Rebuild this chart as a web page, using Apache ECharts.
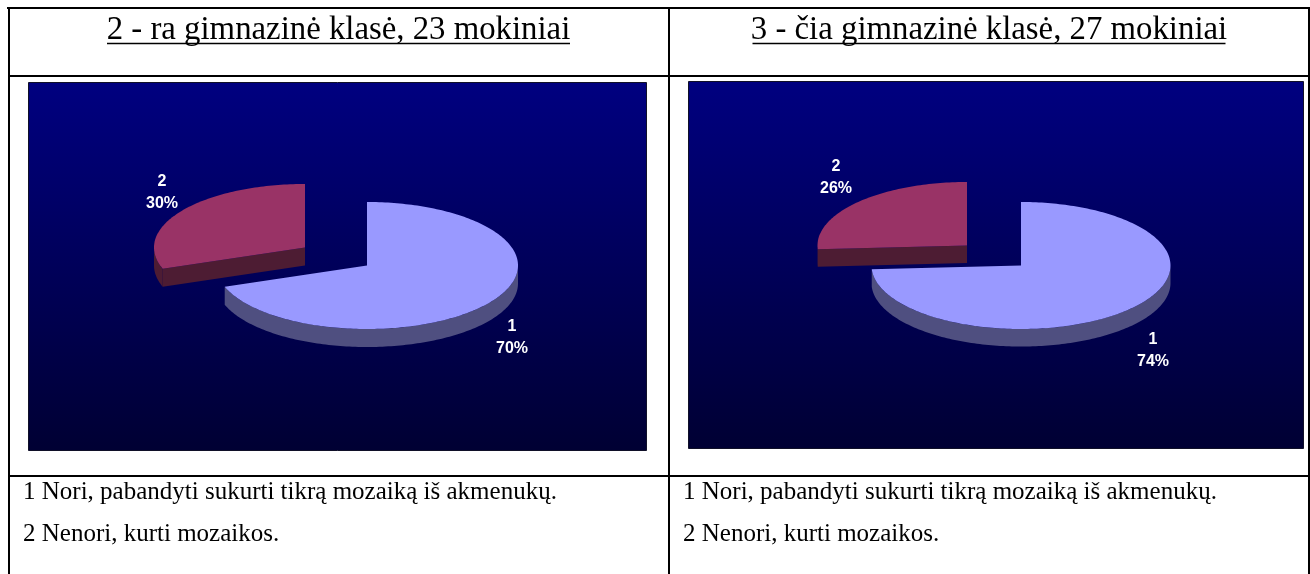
<!DOCTYPE html>
<html>
<head>
<meta charset="utf-8">
<style>html,body{margin:0;padding:0;background:#fff}#c{width:1310px;height:574px}</style>
<script src="https://cdn.jsdelivr.net/npm/echarts@6/dist/echarts.min.js"></script>
</head>
<body>
<div id="c"></div>
<script>
// ---- data ----
const titles = ['2 - ra gimnazinė klasė, 23 mokiniai', '3 - čia gimnazinė klasė, 27 mokiniai'];
const categories = ['1', '2'];
const valuesLeft = [16, 7];    // pupils out of 23: 70% / 30%
const valuesRight = [20, 7];   // pupils out of 27: 74% / 26%
const legendLines = ['1 Nori, pabandyti sukurti tikrą mozaiką iš akmenukų.', '2 Nenori, kurti mozaikos.'];

// ---- layout and style ----
const TOP_COLORS = ['#9999FF', '#993366'];
const RIM_COLORS = ['#4F4F80', '#4D1C33'];
const panels = [
  { x: 28.5, y: 82.5, w: 618, h: 368, titleX: 338.5, titleW: 463, legendX: 23 },
  { x: 688.5, y: 81.5, w: 615, h: 367, titleX: 989, titleW: 473, legendX: 683 }
];
const pies = [
  { values: valuesLeft, rx: 151, ry: 63.5, depth: 18,
    centers: [[367, 265.5], [305, 247.5]],
    labels: [[512, 337.5], [162, 192.5]] },
  { values: valuesRight, rx: 149.5, ry: 63.5, depth: 17.5,
    centers: [[1021, 265.5], [967, 245.5]],
    labels: [[1153, 350.5], [836, 178]] }
];

// a point on a rim; angle measured clockwise from 12 o'clock
function rimPoint(c, p, a, dy) {
  return [c[0] + p.rx * Math.sin(a), c[1] - p.ry * Math.cos(a) + (dy || 0)];
}
function arc(c, p, a0, a1, dy) {
  const n = Math.max(2, Math.ceil(Math.abs(a1 - a0) / 0.02));
  const pts = [];
  for (let i = 0; i <= n; i++) pts.push(rimPoint(c, p, a0 + (a1 - a0) * i / n, dy));
  return pts;
}

function makeRender(p) {
  const total = p.values.reduce((s, v) => s + v, 0);
  return function (params, api) {
    const i = params.dataIndex;
    const val = api.value(1);
    const before = p.values.slice(0, i).reduce((s, v) => s + v, 0);
    const a0 = before / total * Math.PI * 2;
    const a1 = a0 + val / total * Math.PI * 2;
    const c = p.centers[i];
    const children = [];
    // front rim: only the part of the arc between 90deg and 270deg faces the viewer
    const f0 = Math.max(a0, Math.PI / 2), f1 = Math.min(a1, Math.PI * 1.5);
    if (f1 > f0) {
      const pts = arc(c, p, f0, f1, 0).concat(arc(c, p, f1, f0, p.depth));
      children.push({ type: 'polygon', shape: { points: pts }, style: { fill: RIM_COLORS[i] } });
    }
    // cut face, visible when the end edge of the slice looks forward
    if (a0 > Math.PI && a0 < Math.PI * 2) {
      const e = rimPoint(c, p, a0, 0);
      children.push({ type: 'polygon',
        shape: { points: [c, e, [e[0], e[1] + p.depth], [c[0], c[1] + p.depth]] },
        style: { fill: RIM_COLORS[i] } });
    }
    children.push({ type: 'polygon',
      shape: { points: [c].concat(arc(c, p, a0, a1, 0)) },
      style: { fill: TOP_COLORS[i] } });
    const l = p.labels[i];
    children.push({ type: 'text',
      style: { text: api.value(0) + '\n' + Math.round(val / total * 100) + '%',
        x: l[0], y: l[1], align: 'center', verticalAlign: 'middle',
        font: 'bold 16px "Liberation Sans", Arial, sans-serif', lineHeight: 22, fill: '#fff' } });
    return { type: 'group', children };
  };
}

const LINE = '#000';
function rule(x1, y1, x2, y2, w) {
  return { type: 'line', silent: true, z: 3,
    shape: { x1, y1, x2, y2 }, style: { stroke: LINE, lineWidth: w || 2 } };
}
const graphics = [
  rule(7, 8, 1310, 8), rule(9, 7, 9, 574), rule(669, 8, 669, 574), rule(1309, 7, 1309, 574),
  rule(8, 76, 1310, 76), rule(8, 476, 1310, 476)
];
panels.forEach((b, k) => {
  graphics.push({ type: 'rect', silent: true, z: 1,
    shape: { x: b.x, y: b.y, width: b.w, height: b.h },
    style: {
      stroke: '#101028', lineWidth: 1,
      fill: new echarts.graphic.LinearGradient(0, 0, 0, 1, [
        { offset: 0, color: '#000080' }, { offset: 1, color: '#000033' }
      ])
    } });
  graphics.push({ type: 'text', silent: true, z: 3,
    style: { text: titles[k], x: b.titleX, y: 30, align: 'center', verticalAlign: 'middle',
      font: '32.8px "Liberation Serif", "Times New Roman", serif', fill: '#000' } });
  graphics.push({ type: 'line', silent: true, z: 3,
    shape: { x1: b.titleX - b.titleW / 2, y1: 43.5, x2: b.titleX + b.titleW / 2, y2: 43.5 },
    style: { stroke: '#000', lineWidth: 1.5 } });
  legendLines.forEach((t, n) => {
    graphics.push({ type: 'text', silent: true, z: 3,
      style: { text: t, x: b.legendX, y: 492 + n * 42, align: 'left', verticalAlign: 'middle',
        font: '25px "Liberation Serif", "Times New Roman", serif', fill: '#000' } });
  });
});

const chart = echarts.init(document.getElementById('c'), null, { renderer: 'canvas' });
chart.setOption({
  animation: false,
  backgroundColor: '#fff',
  tooltip: { show: false },
  graphic: { elements: graphics },
  series: pies.map(p => ({
    type: 'custom',
    coordinateSystem: 'none',
    silent: true,
    z: 5,
    renderItem: makeRender(p),
    data: categories.map((name, i) => [name, p.values[i]])
  }))
});
</script>
</body>
</html>
